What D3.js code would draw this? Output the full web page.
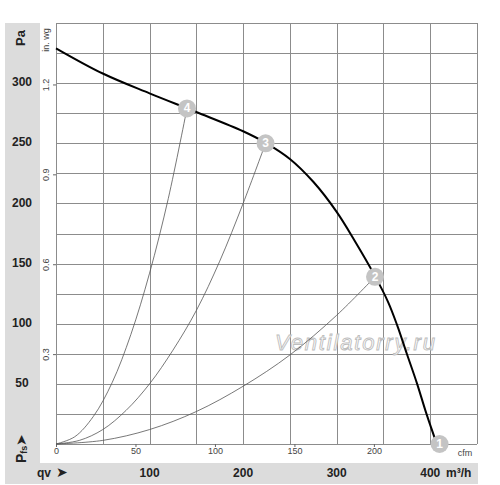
<!DOCTYPE html>
<html>
<head>
<meta charset="utf-8">
<script src="https://cdn.jsdelivr.net/npm/d3@7"></script>
<style>
  body { margin: 0; background: #fff; }
  text { font-family: "Liberation Sans", Arial, sans-serif; }
</style>
</head>
<body>
<div id="chart"></div>
<script>
// fan curve (m3/h, Pa)
const fanQ  = [0, 50, 100, 150, 200, 225, 250, 275, 300, 320, 340, 355, 365, 375, 386, 396, 407];
const fanPa = [329, 308, 291.5, 276, 260, 250, 237, 218, 193, 168, 141, 118, 98, 75, 50, 25, 0];

// system curves through the operating points
const sys2Q  = [0, 50, 100, 150, 200, 250, 300, 341];
const sys2Pa = [0, 3, 12, 27, 48, 74, 107, 139];
const sys3Q  = [0, 25, 50, 75, 100, 125, 150, 175, 200, 224];
const sys3Pa = [0, 3, 12, 28, 50, 78, 111, 152, 200, 250];
const sys4Q  = [0, 20, 40, 60, 80, 100, 120, 140];
const sys4Pa = [0, 6, 23, 51, 91, 142, 204, 279];

// operating points
const pointIds = ['1', '2', '3', '4'];
const pointQ   = [410, 341, 224, 140];
const pointPa  = [0, 139, 250, 279];

// tick labels
const qLabels   = [100, 200, 300, 400];
const paLabels  = [50, 100, 150, 200, 250, 300];
const cfmLabels = [0, 50, 100, 150, 200];
const inwgLabels = [0.3, 0.6, 0.9, 1.2];

const width = 500;
const height = 485;
const plotL = 56, plotR = 477, plotT = 23, plotB = 444;

const x = d3.scaleLinear().domain([0, 450]).range([plotL, plotR]);
const y = d3.scaleLinear().domain([0, 350]).range([plotB, plotT]);
// secondary units
const xCfm = d3.scaleLinear().domain([0, 450 / 1.699]).range([plotL, plotR]);
const yInwg = d3.scaleLinear().domain([0, 350 / 249.09]).range([plotB, plotT]);

const svg = d3.select('#chart').append('svg')
  .attr('width', width)
  .attr('height', height);

// gray bands
svg.append('rect').attr('x', 5).attr('y', 23).attr('width', 35).attr('height', 461).attr('fill', '#dcdcdc');
svg.append('rect').attr('x', 5).attr('y', 463).attr('width', 473).attr('height', 21).attr('fill', '#dcdcdc');

// grid
const grid = svg.append('g').attr('stroke', '#8c8c8c').attr('stroke-width', 1).attr('shape-rendering', 'crispEdges');
grid.selectAll('.v').data(d3.range(0, 451, 50)).enter().append('line')
  .attr('x1', d => Math.round(x(d)) + 0.5).attr('x2', d => Math.round(x(d)) + 0.5)
  .attr('y1', plotT).attr('y2', plotB);
grid.selectAll('.h').data(d3.range(0, 351, 25)).enter().append('line')
  .attr('y1', d => Math.round(y(d)) + 0.5).attr('y2', d => Math.round(y(d)) + 0.5)
  .attr('x1', plotL).attr('x2', plotR);

// watermark
svg.append('text')
  .attr('x', 275).attr('y', 350)
  .attr('font-size', 22)
  .attr('font-style', 'italic')
  .attr('fill', '#fff')
  .attr('stroke', '#bdbdbd')
  .attr('stroke-width', 0.9)
  .attr('textLength', 160)
  .text('Ventilatorry.ru');

// cfm axis (bottom of plot)
const cfmAxis = d3.axisBottom(xCfm).tickValues(cfmLabels).tickSize(3).tickPadding(1);
const gc = svg.append('g').attr('transform', `translate(0,${plotB})`).call(cfmAxis);
gc.select('.domain').remove();
gc.selectAll('line').attr('stroke', '#666');
gc.selectAll('text').attr('font-size', 9).attr('fill', '#444').attr('font-family', '"Liberation Sans", Arial, sans-serif');
svg.append('text').attr('x', 465).attr('y', 456).attr('text-anchor', 'middle')
  .attr('font-size', 9).attr('fill', '#444').text('cfm');

// in. wg axis (left of plot)
const wgAxis = d3.axisLeft(yInwg).tickValues(inwgLabels).tickSize(3).tickPadding(1);
const gw = svg.append('g').attr('transform', `translate(${plotL},0)`).call(wgAxis);
gw.select('.domain').remove();
gw.selectAll('line').attr('stroke', '#666');
gw.selectAll('text')
  .attr('font-size', 9).attr('fill', '#444')
  .attr('font-family', '"Liberation Sans", Arial, sans-serif')
  .attr('text-anchor', 'middle')
  .attr('dy', null)
  .attr('x', null)
  .attr('transform', 'translate(-9,0) rotate(-90)')
  .attr('dominant-baseline', 'middle');
svg.append('text')
  .attr('transform', 'translate(47,40) rotate(-90)')
  .attr('text-anchor', 'middle').attr('dominant-baseline', 'middle')
  .attr('font-size', 9).attr('fill', '#444').text('in. wg');

// Pa labels in left band
svg.selectAll('.pa').data(paLabels).enter().append('text')
  .attr('x', 22).attr('y', d => y(d))
  .attr('text-anchor', 'middle').attr('dominant-baseline', 'middle')
  .attr('font-size', 12).attr('font-weight', 'bold').attr('fill', '#222')
  .text(d => d);
svg.append('text')
  .attr('transform', 'translate(22,38) rotate(-90)')
  .attr('text-anchor', 'middle').attr('dominant-baseline', 'middle')
  .attr('font-size', 13).attr('font-weight', 'bold').attr('fill', '#222')
  .text('Pa');

// Pfs label
const pfs = svg.append('text')
  .attr('transform', 'translate(22,463) rotate(-90)')
  .attr('dominant-baseline', 'middle')
  .attr('font-weight', 'bold').attr('fill', '#222');
pfs.append('tspan').attr('font-size', 14).text('P');
pfs.append('tspan').attr('font-size', 9).attr('dy', 3).text('fs');
svg.append('text')
  .attr('transform', 'translate(22,440) rotate(-90)')
  .attr('text-anchor', 'middle').attr('dominant-baseline', 'middle')
  .attr('font-family', '"DejaVu Sans", sans-serif')
  .attr('font-size', 14).attr('fill', '#222').text('\u27A4');

// bottom band labels (m3/h)
svg.selectAll('.q').data(qLabels).enter().append('text')
  .attr('x', d => x(d)).attr('y', 477)
  .attr('text-anchor', 'middle')
  .attr('font-size', 12).attr('font-weight', 'bold').attr('fill', '#222')
  .text(d => d);
svg.append('text').attr('x', 446).attr('y', 477)
  .attr('font-size', 12).attr('font-weight', 'bold').attr('fill', '#222')
  .text('m³/h');
svg.append('text').attr('x', 37).attr('y', 477)
  .attr('font-size', 12).attr('font-weight', 'bold').attr('fill', '#222')
  .text('qv');
svg.append('text').attr('x', 62).attr('y', 473)
  .attr('text-anchor', 'middle').attr('dominant-baseline', 'middle')
  .attr('font-family', '"DejaVu Sans", sans-serif')
  .attr('font-size', 14).attr('fill', '#222').text('\u27A4');

// curves
const line = d3.line()
  .x(d => x(d[0])).y(d => y(d[1]))
  .curve(d3.curveCatmullRom.alpha(0.5));

const sysCurves = [
  d3.zip(sys2Q, sys2Pa),
  d3.zip(sys3Q, sys3Pa),
  d3.zip(sys4Q, sys4Pa)
];
svg.selectAll('.sys').data(sysCurves).enter().append('path')
  .attr('d', line)
  .attr('fill', 'none')
  .attr('stroke', '#555')
  .attr('stroke-width', 0.8);

svg.append('path')
  .datum(d3.zip(fanQ, fanPa))
  .attr('d', line)
  .attr('fill', 'none')
  .attr('stroke', '#000')
  .attr('stroke-width', 2);

// operating point markers
const pts = svg.selectAll('.pt').data(pointIds).enter().append('g')
  .attr('transform', (d, i) => `translate(${x(pointQ[i])},${y(pointPa[i])})`);
pts.append('circle').attr('r', 9).attr('fill', '#c4c4c4');
pts.append('text')
  .attr('text-anchor', 'middle').attr('dominant-baseline', 'central')
  .attr('font-size', 12).attr('font-weight', 'bold').attr('fill', '#fff')
  .text(d => d);
</script>
</body>
</html>
